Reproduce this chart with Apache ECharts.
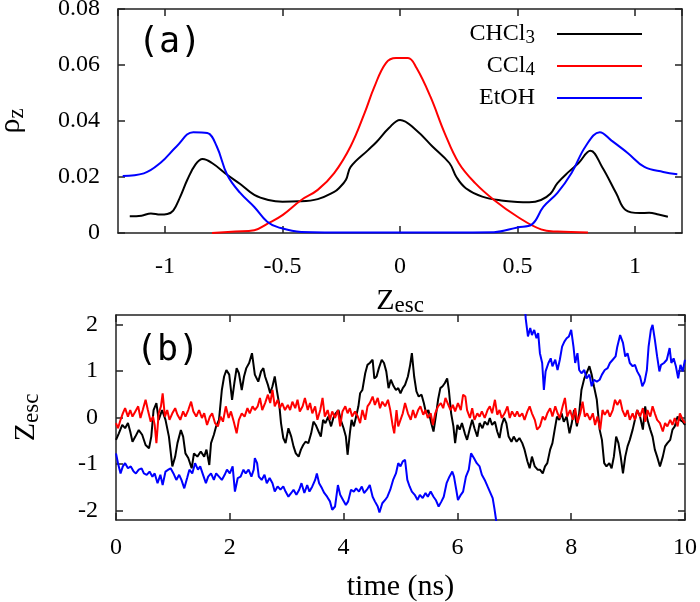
<!DOCTYPE html>
<html>
<head>
<meta charset="utf-8">
<script src="https://cdn.jsdelivr.net/npm/echarts@6/dist/echarts.min.js"></script>
<style>
  html, body { margin: 0; padding: 0; background: #fff; }
  #chart { width: 700px; height: 602px; }
</style>
</head>
<body>
<div id="chart"></div>
<script>
(function () {
  'use strict';

  // panel (a): density profiles along Z_esc
  const zChcl3 = [-1.15, -1.10, -1.06, -1.02, -0.99, -0.965, -0.935, -0.905, -0.87, -0.84, -0.80, -0.734, -0.68, -0.62, -0.56, -0.5, -0.43, -0.35, -0.28, -0.26, -0.23, -0.21, -0.136, -0.1, -0.047, 0, 0.068, 0.137, 0.21, 0.24, 0.28, 0.35, 0.44, 0.5, 0.55, 0.6, 0.64, 0.67, 0.72, 0.76, 0.81, 0.86, 0.92, 0.96, 1.02, 1.06, 1.1, 1.14];
  const rhoChcl3 = [0.006, 0.0062, 0.0070, 0.0066, 0.0068, 0.008, 0.013, 0.019, 0.0245, 0.0264, 0.025, 0.0207, 0.0175, 0.0136, 0.0118, 0.0112, 0.0113, 0.0121, 0.0147, 0.016, 0.019, 0.0236, 0.0296, 0.0325, 0.0375, 0.0404, 0.0368, 0.031, 0.025, 0.02, 0.016, 0.013, 0.0115, 0.0111, 0.0110, 0.0118, 0.014, 0.0178, 0.022, 0.025, 0.0294, 0.0236, 0.0142, 0.0082, 0.0071, 0.0072, 0.0066, 0.0058];
  const zCcl4 = [-0.8, -0.7, -0.62, -0.56, -0.5, -0.42, -0.35, -0.28, -0.21, -0.15, -0.11, -0.06, -0.017, 0.034, 0.07, 0.13, 0.19, 0.25, 0.32, 0.4, 0.5, 0.6, 0.67, 0.8];
  const rhoCcl4 = [0, 0.0005, 0.001, 0.0035, 0.0064, 0.0118, 0.0154, 0.0214, 0.031, 0.043, 0.052, 0.0607, 0.0625, 0.0625, 0.059, 0.0486, 0.0357, 0.025, 0.0178, 0.0118, 0.0058, 0.0013, 0.0005, 0.0002];
  const zEtoh = [-1.18, -1.09, -1.02, -0.95, -0.88, -0.82, -0.78, -0.735, -0.68, -0.62, -0.565, -0.52, -0.42, -0.2, 0, 0.2, 0.4, 0.5, 0.56, 0.61, 0.67, 0.73, 0.79, 0.85, 0.9, 0.97, 1.04, 1.12, 1.18];
  const rhoEtoh = [0.0204, 0.0213, 0.025, 0.031, 0.036, 0.0357, 0.031, 0.0207, 0.0143, 0.0093, 0.004, 0.0021, 0.0004, 0.0002, 0.0002, 0.0002, 0.0003, 0.002, 0.003, 0.0093, 0.0143, 0.0214, 0.031, 0.036, 0.033, 0.0285, 0.0236, 0.0218, 0.021];

  // panel (b): Z_esc trajectories vs time (ns)
  const tChcl3 = [0.00, 0.05, 0.11, 0.16, 0.21, 0.25, 0.29, 0.34, 0.40, 0.46, 0.52, 0.58, 0.62, 0.66, 0.71, 0.75, 0.81, 0.87, 0.93, 0.99, 1.04, 1.08, 1.14, 1.18, 1.22, 1.27, 1.33, 1.37, 1.43, 1.49, 1.55, 1.59, 1.64, 1.67, 1.72, 1.76, 1.81, 1.86, 1.90, 1.94, 1.99, 2.04, 2.08, 2.12, 2.16, 2.21, 2.25, 2.29, 2.34, 2.39,
    2.44, 2.50, 2.55, 2.59, 2.62, 2.67, 2.71, 2.75, 2.79, 2.83, 2.87, 2.90, 2.94, 2.98, 3.03, 3.08, 3.12, 3.16, 3.21, 3.25, 3.29, 3.33, 3.38, 3.43, 3.47, 3.51, 3.56, 3.60, 3.64, 3.68, 3.73, 3.78, 3.82, 3.86, 3.91, 3.95, 4.00, 4.04, 4.07, 4.11, 4.14, 4.18, 4.22, 4.26, 4.29, 4.33, 4.38, 4.42, 4.46, 4.51, 4.54, 4.58, 4.62, 4.67, 4.71, 4.75, 4.79, 4.83, 4.88, 4.92,
    4.96, 5.00, 5.04, 5.08, 5.13, 5.17, 5.20, 5.24, 5.28, 5.32, 5.37, 5.41, 5.45, 5.49, 5.54, 5.58, 5.62, 5.66, 5.70, 5.74, 5.78, 5.82, 5.85, 5.89, 5.93, 5.96, 6.00, 6.04, 6.08, 6.13, 6.17, 6.22, 6.26, 6.30, 6.35, 6.39, 6.44, 6.48, 6.53, 6.57, 6.61, 6.66, 6.70, 6.74, 6.78, 6.82, 6.86, 6.90, 6.95, 6.99, 7.04, 7.09, 7.14, 7.18, 7.23, 7.27, 7.31, 7.36, 7.41,
    7.45, 7.50, 7.54, 7.58, 7.63, 7.67, 7.71, 7.75, 7.79, 7.83, 7.87, 7.92, 7.97, 8.01, 8.05, 8.10, 8.14, 8.18, 8.23, 8.27, 8.32, 8.36, 8.40, 8.45, 8.50, 8.54, 8.58, 8.62, 8.67, 8.71, 8.75, 8.79, 8.83, 8.87, 8.91, 8.95, 8.99, 9.03, 9.08, 9.12, 9.16, 9.21, 9.26, 9.30, 9.34, 9.39, 9.43, 9.47, 9.51, 9.56, 9.61, 9.65, 9.69, 9.74, 9.78, 9.82, 9.87, 9.91, 9.96, 10.0];
  const escChcl3 = [-0.48, -0.34, -0.16, -0.23, -0.12, -0.3, -0.52, -0.41, -0.27, -0.37, -0.59, -0.66, -0.41, 0.16, 0.31, -0.05, 0.16, -0.05, -0.41, -1.05, -0.84, -0.55, -0.27, -0.41, -0.77, -0.87, -1.09, -0.77, -0.84, -0.73, -0.84, -0.69, -1.02, -0.55, -0.37, -0.19, -0.05, 0.59, 0.88, 1.02, 0.92, 0.38, 0.74, 1.06, 0.95, 0.59, 0.88, 1.06, 1.17, 1.38,
    0.92, 0.77, 0.99, 1.06, 0.88, 0.7, 0.52, 0.67, 0.88, 0.56, 0.27, -0.12, -0.44, -0.55, -0.23, -0.41, -0.62, -0.77, -0.84, -0.69, -0.59, -0.52, -0.55, -0.34, -0.09, -0.16, -0.3, -0.41, -0.05, -0.12, 0.02, -0.19, -0.01, 0.09, 0.16, -0.05, -0.23, -0.41, -0.8, -0.34, -0.05, -0.19, 0.02, 0.24, 0.52, 0.59, 0.95, 1.13, 1.17, 1.24, 0.84, 0.88, 1.06, 1.24, 1.17, 0.99, 0.63, 0.81, 0.67, 0.59,
    0.63, 0.52, 0.63, 0.7, 0.88, 1.13, 1.38, 0.88, 0.56, 0.45, 0.49, 0.31, 0.09, 0.16, -0.12, -0.3, 0.02, 0.38, 0.63, 0.67, 0.74, 0.84, 0.59, 0.09, -0.19, -0.55, -0.16, -0.26, -0.12, -0.34, -0.48, -0.23, -0.05, -0.23, -0.41, -0.12, -0.23, -0.09, -0.16, -0.01, -0.16, -0.09, -0.3, -0.44, -0.16, -0.01, -0.12, -0.41, -0.52, -0.41, -0.52, -0.44, -0.55, -0.69, -0.94, -1.09, -0.84, -1.05, -1.12,
    -1.12, -1.2, -1.05, -0.98, -0.69, -0.55, -0.26, 0.02, -0.05, 0.09, -0.09, 0.02, -0.34, -0.12, 0.16, -0.19, 0.09, 0.59, 0.84, 0.95, 1.1, 0.92, 0.67, 0.38, -0.26, -0.48, -0.98, -1.05, -0.98, -1.09, -0.84, -0.41, -0.55, -0.84, -1.2, -0.84, -0.62, -0.48, -0.26, -0.05, 0.16, 0.02, -0.26, 0.24, -0.05, -0.26, -0.41, -0.69, -0.84, -1.05, -0.84, -0.62, -0.55, -0.48, -0.26, -0.19, 0.02, -0.05, -0.09, -0.16];

  const tCcl4 = [0, 0.035, 0.08, 0.12, 0.16, 0.21, 0.25, 0.29, 0.34, 0.39, 0.43, 0.47, 0.52, 0.56, 0.61, 0.65, 0.68, 0.71, 0.75, 0.79, 0.82, 0.86, 0.9, 0.94, 0.99, 1.04, 1.08, 1.13, 1.18, 1.22, 1.27, 1.32, 1.36, 1.41, 1.46, 1.51, 1.55, 1.6, 1.65, 1.69, 1.74, 1.79, 1.84, 1.88, 1.93, 1.98, 2.02, 2.07, 2.12, 2.16, 2.21, 2.26, 2.31, 2.35, 2.4,
    2.44, 2.49, 2.53, 2.57, 2.62, 2.67, 2.71, 2.75, 2.79, 2.84, 2.88, 2.92, 2.97, 3.02, 3.06, 3.10, 3.15, 3.19, 3.23, 3.28, 3.32, 3.37, 3.41, 3.45, 3.50, 3.54, 3.59, 3.63, 3.67, 3.72, 3.76, 3.80, 3.85, 3.90, 3.94, 3.98, 4.03, 4.07, 4.11, 4.15, 4.20, 4.25, 4.29, 4.33, 4.38, 4.42, 4.46, 4.51, 4.55, 4.60, 4.64, 4.68, 4.73, 4.78, 4.82, 4.86, 4.89, 4.93,
    4.96, 5.00, 5.04, 5.08, 5.13, 5.18, 5.22, 5.26, 5.31, 5.35, 5.40, 5.44, 5.48, 5.53, 5.57, 5.61, 5.66, 5.71, 5.75, 5.79, 5.84, 5.88, 5.92, 5.96, 6.01, 6.06, 6.10, 6.14, 6.17, 6.22, 6.26, 6.30, 6.35, 6.39, 6.43, 6.48, 6.53, 6.57, 6.61, 6.66, 6.70, 6.74, 6.78, 6.83, 6.88, 6.92, 6.96, 7.01, 7.05, 7.09, 7.14, 7.18, 7.23, 7.27, 7.31, 7.36, 7.40,
    7.45, 7.50, 7.54, 7.58, 7.63, 7.67, 7.72, 7.76, 7.80, 7.85, 7.89, 7.93, 7.98, 8.03, 8.07, 8.11, 8.16, 8.20, 8.24, 8.28, 8.33, 8.38, 8.42, 8.46, 8.51, 8.55, 8.59, 8.64, 8.68, 8.73, 8.77, 8.81, 8.86, 8.90, 8.95, 8.99, 9.03, 9.08, 9.12, 9.16, 9.21, 9.26, 9.30, 9.34, 9.39, 9.43, 9.47, 9.51, 9.56, 9.61, 9.65, 9.69, 9.74, 9.78, 9.82, 9.87, 9.91, 9.96, 10.0];
  const escCcl4 = [-0.12, -0.23, -0.05, 0.09, 0.2, 0.02, 0.16, 0.02, 0.13, 0.24, -0.01, 0.16, 0.38, 0.16, -0.09, 0.02, -0.16, -0.55, 0.09, 0.24, 0.52, 0.02, 0.16, -0.05, 0.09, 0.2, 0.06, -0.05, 0.13, 0.02, 0.16, 0.34, 0.13, 0.02, 0.16, -0.01, 0.09, -0.16, 0.02, 0.09, -0.12, -0.19, 0.02, -0.09, 0.24, -0.01, 0.13, -0.09, -0.34, -0.05, 0.09, 0.02, 0.2, 0.09, 0.24,
    0.16, 0.24, 0.42, 0.16, 0.31, 0.49, 0.31, 0.59, 0.24, 0.38, 0.2, 0.31, 0.16, 0.27, 0.16, 0.34, 0.2, 0.38, 0.13, 0.24, 0.42, 0.16, 0.31, 0.09, 0.24, -0.05, 0.16, 0.42, 0.02, 0.16, -0.05, 0.13, -0.01, 0.16, -0.19, 0.13, 0.24, 0.09, 0.2, 0.02, 0.13, 0.02, -0.12, 0.16, -0.05, 0.24, 0.31, 0.45, 0.27, 0.42, 0.2, 0.34, 0.24, 0.38, 0.16, -0.16, -0.34, 0.16,
    -0.19, -0.05, 0.09, 0.31, 0.09, -0.05, 0.16, -0.01, 0.16, 0.24, 0.06, 0.16, -0.01, 0.09, -0.16, 0.09, 0.24, 0.31, 0.2, 0.42, 0.27, 0.16, 0.27, 0.13, 0.31, 0.16, 0.49, 0.45, 0.16, -0.01, 0.2, -0.05, 0.09, 0.02, 0.13, -0.01, 0.16, 0.24, 0.09, 0.38, 0.06, 0.16, -0.01, 0.09, 0.24, -0.01, 0.13, 0.02, 0.13, 0.02, 0.09, -0.05, 0.13, 0.24, 0.09, -0.05, -0.26,
    -0.19, 0.02, -0.05, 0.09, 0.2, 0.02, 0.24, 0.09, -0.01, 0.24, 0.42, 0.02, 0.16, -0.05, 0.2, -0.12, 0.09, 0.34, 0.02, 0.09, -0.05, 0.09, -0.16, 0.02, -0.26, 0.16, 0.06, 0.16, 0.02, 0.16, 0.38, 0.27, 0.38, 0.16, 0.02, 0.16, -0.05, 0.09, -0.05, 0.16, 0.02, 0.2, -0.09, 0.16, 0.02, 0.24, 0.09, -0.05, -0.12, -0.3, -0.12, -0.19, -0.05, -0.16, -0.01, -0.19, 0.09, -0.05, -0.12];

  // EtOH leaves the window at ~6.7 ns and comes back from the top at ~7.2 ns
  const tEtohA = [0, 0.035, 0.08, 0.12, 0.16, 0.21, 0.26, 0.31, 0.35, 0.40, 0.45, 0.49, 0.54, 0.59, 0.64, 0.68, 0.73, 0.78, 0.82, 0.87, 0.92, 0.96, 1.01, 1.06, 1.11, 1.15, 1.2, 1.25, 1.29, 1.34, 1.39, 1.44, 1.48, 1.53, 1.58, 1.62, 1.67, 1.72, 1.76, 1.81, 1.86, 1.91, 1.95, 2.0, 2.05, 2.09, 2.14, 2.19, 2.24, 2.28, 2.33, 2.38, 2.42,
    2.44, 2.48, 2.51, 2.56, 2.61, 2.65, 2.70, 2.75, 2.79, 2.84, 2.89, 2.94, 2.98, 3.03, 3.08, 3.12, 3.17, 3.22, 3.26, 3.31, 3.36, 3.40, 3.45, 3.50, 3.53, 3.57, 3.62, 3.66, 3.71, 3.76, 3.80, 3.85, 3.90, 3.94, 3.99, 4.04, 4.08, 4.13, 4.18, 4.22, 4.27, 4.32, 4.36, 4.41, 4.46, 4.51, 4.55, 4.60, 4.63, 4.68, 4.73, 4.77, 4.82, 4.87, 4.92,
    4.96, 5.00, 5.04, 5.08, 5.12, 5.16, 5.20, 5.25, 5.30, 5.34, 5.39, 5.44, 5.48, 5.53, 5.58, 5.62, 5.67, 5.72, 5.76, 5.81, 5.86, 5.91, 5.94, 5.98, 6.01, 6.06, 6.10, 6.15, 6.20, 6.24, 6.29, 6.34, 6.39, 6.43, 6.48, 6.53, 6.57, 6.62, 6.65, 6.68, 6.70];
  const escEtohA = [-0.77, -0.98, -1.2, -1.05, -0.98, -1.09, -1.05, -1.16, -1.2, -1.12, -1.09, -1.2, -1.23, -1.16, -1.27, -1.2, -1.41, -1.23, -1.45, -1.16, -1.12, -1.09, -1.2, -1.34, -1.23, -1.34, -1.52, -1.3, -1.12, -1.2, -0.98, -1.12, -1.05, -1.23, -1.41, -1.27, -1.2, -1.34, -1.2, -1.27, -1.34, -1.23, -1.12, -1.2, -1.05, -1.59, -1.3, -1.27, -1.12, -1.2, -1.12, -1.27, -1.12,
    -0.87, -0.98, -1.27, -1.34, -1.23, -1.41, -1.3, -1.41, -1.59, -1.48, -1.55, -1.48, -1.59, -1.7, -1.62, -1.55, -1.66, -1.55, -1.41, -1.62, -1.45, -1.59, -1.48, -1.34, -1.2, -1.41, -1.52, -1.62, -1.7, -1.8, -1.98, -1.91, -1.45, -1.66, -1.77, -1.88, -1.8, -1.55, -1.59, -1.52, -1.59, -1.48, -1.62, -1.55, -1.45, -1.7, -1.8, -1.91, -2.04, -1.84, -1.77, -1.7, -1.55, -1.34, -1.2,
    -0.98, -1.05, -0.94, -0.91, -1.34, -1.48, -1.59, -1.66, -1.77, -1.66, -1.73, -1.62, -1.7, -1.59, -1.7, -1.77, -1.91, -1.8, -1.7, -1.41, -1.27, -1.16, -1.27, -1.55, -1.77, -1.66, -1.59, -1.27, -1.12, -0.77, -0.87, -0.98, -1.05, -1.23, -1.34, -1.48, -1.59, -1.73, -1.95, -2.2, -2.4];
  const tEtohB = [7.19, 7.20, 7.24, 7.28, 7.31, 7.35, 7.39, 7.42, 7.45, 7.49, 7.52, 7.55, 7.60, 7.64, 7.67, 7.72, 7.76, 7.80, 7.84, 7.88, 7.92, 7.96, 8.00, 8.04, 8.07, 8.11, 8.14, 8.18, 8.23, 8.27, 8.32, 8.36, 8.40, 8.45, 8.50, 8.54, 8.59, 8.64, 8.68, 8.73, 8.78, 8.81, 8.86, 8.91, 8.95, 8.99, 9.03, 9.08, 9.12, 9.16, 9.21, 9.25, 9.29, 9.33, 9.36, 9.40, 9.43, 9.47, 9.51, 9.55, 9.58, 9.63, 9.68, 9.73, 9.76, 9.80, 9.84, 9.88, 9.92, 9.96, 10.0];
  const escEtohB = [2.35, 2.13, 1.74, 1.92, 1.77, 1.88, 1.7, 1.81, 1.38, 1.17, 0.59, 0.99, 1.17, 1.27, 1.1, 1.24, 1.02, 1.24, 1.52, 1.63, 1.7, 1.74, 1.88, 1.52, 1.17, 1.38, 1.02, 0.95, 1.02, 0.84, 0.92, 0.67, 0.81, 0.77, 0.81, 0.92, 1.02, 1.06, 1.17, 1.24, 1.31, 1.52, 1.77, 1.6, 1.31, 1.38, 1.17, 1.1, 1.13, 0.99, 0.88, 0.67, 0.77, 1.02, 1.52, 1.88, 1.99, 1.67, 1.31, 0.99, 1.13, 1.17, 1.24, 1.49, 1.17, 1.27, 1.1, 0.84, 1.13, 0.99, 1.24];

  // axis ranges (ticks: rho every 0.02, time every 2 ns; Z axes use the library's own 0.5 / 1 steps)
  const zRange = [-1.2, 1.2];
  const rhoRange = [0, 0.08];
  const timeRange = [0, 10];
  const escRange = [-2.2, 2.2];

  const SERIF = 'Liberation Serif';
  const FRAME = '#222';
  const colors = { CHCl3: '#000000', CCl4: '#ff0000', EtOH: '#0000ff' };

  const zip = (xs, ys) => xs.map((x, i) => [x, ys[i]]);

  const nameRich = {
    m: { fontFamily: SERIF, fontSize: 30, color: '#000', lineHeight: 34 },
    s: { fontFamily: SERIF, fontSize: 23, color: '#000', lineHeight: 23, verticalAlign: 'bottom', padding: [15, 0, 0, 0] }
  };

  // every side of a panel gets its own axis so the frame carries inward ticks on all four sides
  function axis(gridIndex, position, range, interval, label) {
    const a = {
      type: 'value',
      gridIndex: gridIndex,
      position: position,
      min: range[0],
      max: range[1],
      axisLine: { show: true, onZero: false, lineStyle: { color: FRAME, width: 1.5 } },
      splitLine: { show: false },
      axisTick: { show: true, inside: true, length: 7, lineStyle: { color: FRAME, width: 1.5 } },
      axisLabel: { show: false }
    };
    if (interval) a.interval = interval;
    if (label) {
      a.axisLabel = {
        show: true,
        margin: label.margin,
        showMinLabel: !!label.showMin,
        showMaxLabel: !!label.showMax,
        fontFamily: SERIF,
        fontSize: 24,
        color: '#000'
      };
      if (label.name) {
        a.name = label.name;
        a.nameLocation = 'middle';
        a.nameGap = label.nameGap;
        a.nameTextStyle = { rich: nameRich };
      }
    }
    return a;
  }

  function line(name, xs, ys, xi, yi, smooth) {
    return {
      name: name,
      type: 'line',
      xAxisIndex: xi,
      yAxisIndex: yi,
      data: zip(xs, ys),
      showSymbol: false,
      symbol: 'none',
      smooth: smooth || false,
      color: colors[name],
      lineStyle: { color: colors[name], width: 2 },
      itemStyle: { color: colors[name] },
      animation: false
    };
  }

  const legendRich = {
    m: { fontFamily: SERIF, fontSize: 24, color: '#000', lineHeight: 28 },
    s: { fontFamily: SERIF, fontSize: 19, color: '#000', lineHeight: 19, verticalAlign: 'bottom', padding: [12, 0, 0, 0] }
  };
  const legendLabels = { CHCl3: '{m|CHCl}{s|3}', CCl4: '{m|CCl}{s|4}', EtOH: '{m|EtOH}' };

  function legend(name, top) {
    return {
      data: [name],
      right: 58,
      top: top,
      padding: 0,
      align: 'right',
      icon: 'rect',
      itemWidth: 85,
      itemHeight: 2,
      selectedMode: false,
      formatter: n => legendLabels[n],
      textStyle: { fontFamily: SERIF, fontSize: 24, color: '#000', padding: [0, 17, 0, 0], rich: legendRich }
    };
  }

  const chart = echarts.init(document.getElementById('chart'), null, { renderer: 'canvas' });

  const labelFont = { fontFamily: 'DejaVu Sans Mono', fontSize: 35, fontWeight: 'normal', color: '#000' };

  chart.setOption({
    backgroundColor: '#fff',
    animation: false,
    title: [
      { text: '(a)', left: 138, top: 25, padding: 0, textStyle: labelFont },
      { text: '(b)', left: 136, top: 333, padding: 0, textStyle: labelFont }
    ],
    legend: [legend('CHCl3', 17), legend('CCl4', 49), legend('EtOH', 86)],
    grid: [
      { left: 118, top: 9, width: 564, height: 224, outerBoundsMode: 'none', containLabel: false },
      { left: 116, top: 315, width: 569, height: 205, outerBoundsMode: 'none', containLabel: false }
    ],
    xAxis: [
      axis(0, 'bottom', zRange, null, { margin: 22, name: '{m|Z}{s|esc}', nameGap: 10 }),
      axis(0, 'top', zRange, null),
      axis(1, 'bottom', timeRange, 2, { margin: 16, name: '{m|time (ns)}', nameGap: 50, showMin: true, showMax: true }),
      axis(1, 'top', timeRange, 2)
    ],
    yAxis: [
      axis(0, 'left', rhoRange, 0.02, { margin: 18, name: '{m|ρ}{s|z}', nameGap: 90, showMin: true, showMax: true }),
      axis(0, 'right', rhoRange, 0.02),
      axis(1, 'left', escRange, null, { margin: 18, name: '{m|Z}{s|esc}', nameGap: 73 }),
      axis(1, 'right', escRange, null)
    ],
    series: [
      line('CHCl3', zChcl3, rhoChcl3, 0, 0, 0.4),
      line('CCl4', zCcl4, rhoCcl4, 0, 0, 0.4),
      line('EtOH', zEtoh, rhoEtoh, 0, 0, 0.4),
      line('CHCl3', tChcl3, escChcl3, 2, 2),
      line('CCl4', tCcl4, escCcl4, 2, 2),
      line('EtOH', tEtohA, escEtohA, 2, 2),
      line('EtOH', tEtohB, escEtohB, 2, 2)
    ]
  });

  window.addEventListener('resize', () => chart.resize());
})();
</script>
</body>
</html>
